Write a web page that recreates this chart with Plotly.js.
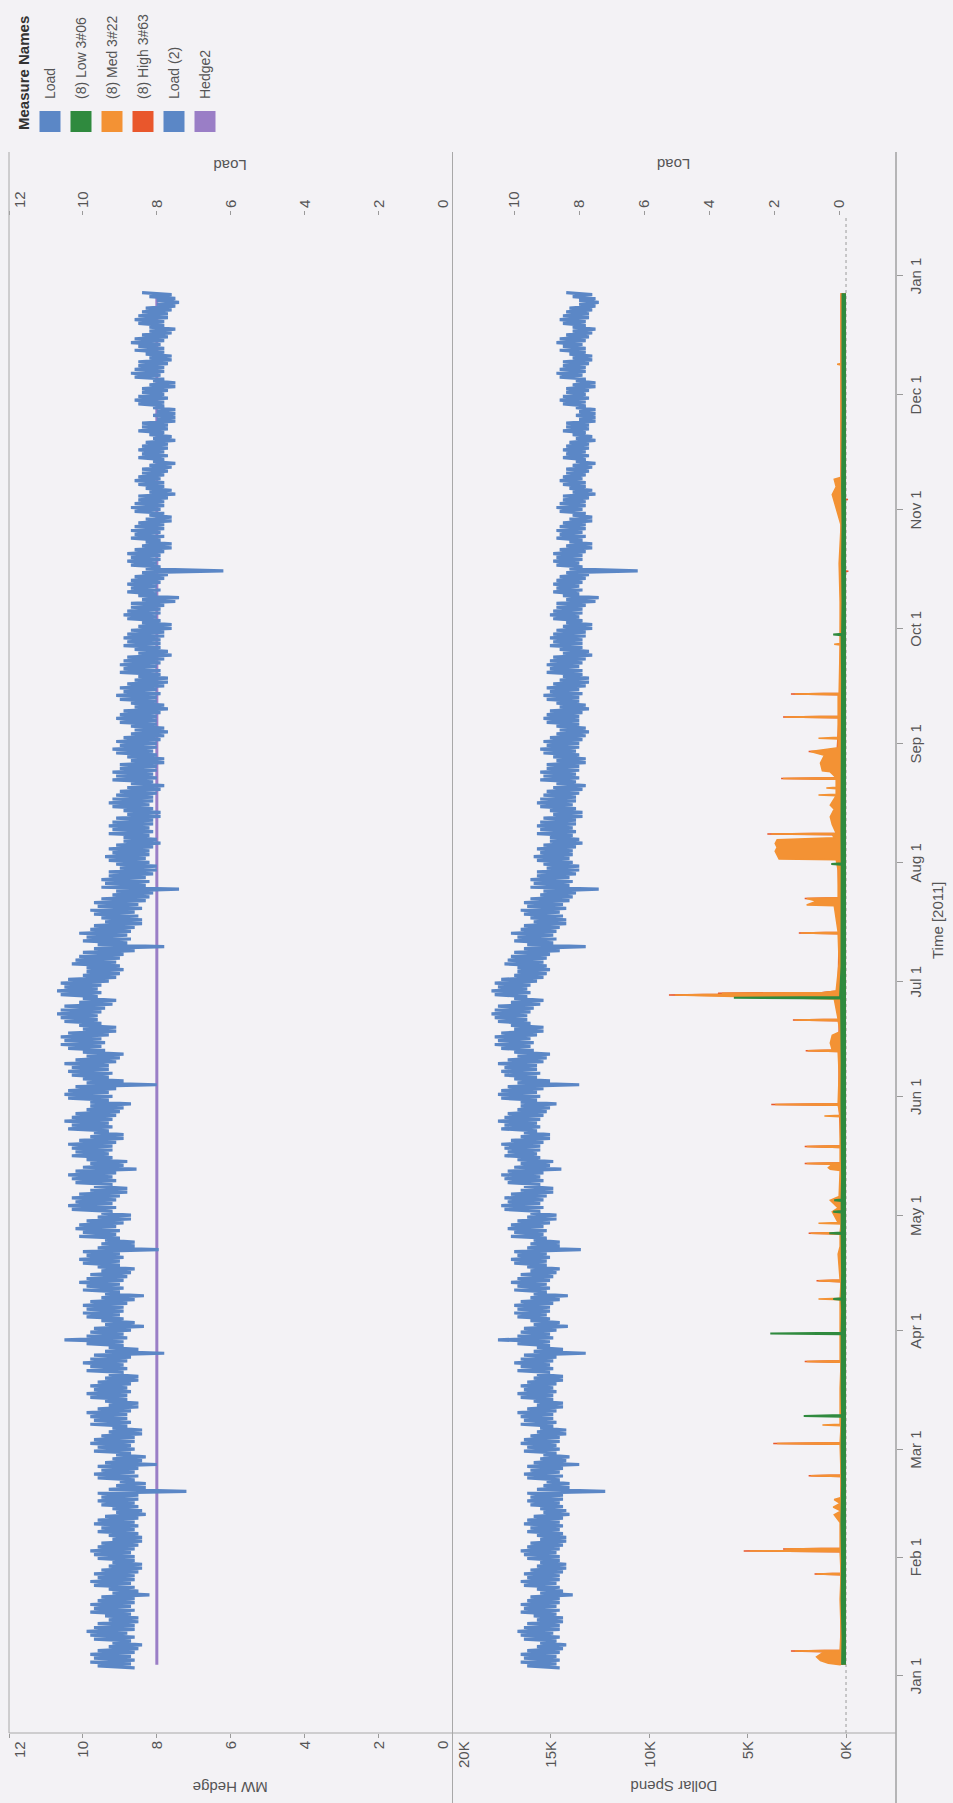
<!DOCTYPE html>
<html><head><meta charset="utf-8">
<script src="https://cdn.plot.ly/plotly-3.0.1.min.js"></script>
<style>
html,body{margin:0;padding:0;background:#f3f2f5;width:953px;height:1803px;overflow:hidden;}
#wrap{position:absolute;left:0;top:0;width:1803px;height:953px;transform-origin:0 0;transform:translate(0px,1803px) rotate(-90deg);}
#chart{width:1803px;height:953px;}
</style></head><body>
<div id="wrap"><div id="chart"></div></div>
<script>
// ---------- DATA ----------
// Load (MW): daily afternoon peak and night low, starting Mon 3 Jan 2011 (day 2)
const loadStartDay = 2;
const loadHigh = [
9.6,9.8,9.7,9.8,9.6,9.3,9.2, 9.7,9.8,9.9,9.7,9.6,9.3,9.4, 9.8,9.7,9.8,9.6,9.5,9.2,9.3, 9.7,9.8,9.6,9.7,9.5,9.3,9.2,
9.6,9.7,9.8,9.6,9.5,9.2,9.3, 9.6,9.5,9.7,9.6,9.4,9.1,9.2, 9.5,9.6,9.5,9.6,9.3,9.1,9.0, 9.6,9.7,9.5,9.6,9.4,9.2,9.1,
9.7,9.6,9.8,9.7,9.5,9.3,9.2, 9.8,9.7,9.8,9.9,9.6,9.3,9.4, 9.8,9.9,9.7,9.8,9.6,9.4,9.3, 9.9,9.8,10.0,9.8,9.7,9.4,9.3,
9.9,10.5,9.9,9.8,9.7,9.4,9.5, 9.9,10.0,9.9,10.0,9.8,9.5,9.4, 10.0,9.9,10.1,9.9,9.8,9.5,9.6, 10.0,10.1,9.9,10.0,9.6,9.5,9.4,
10.1,10.0,10.2,10.1,9.9,9.6,9.5, 10.3,10.4,10.2,10.3,10.1,9.8,9.7, 10.2,10.3,10.4,10.2,10.0,9.8,9.9, 10.3,10.2,10.3,10.4,10.1,9.8,9.7,
10.4,10.3,10.5,10.3,10.2,9.9,9.8, 9.8,10.4,10.5,10.4,10.2,9.9,10.0, 10.3,10.4,10.3,10.5,10.2,9.9,10.0, 10.4,10.6,10.5,10.6,10.4,10.0,10.1,
10.5,10.6,10.7,10.6,10.5,10.1,10.0, 10.6,10.7,10.5,10.6,10.4,10.0,9.9, 9.9,10.3,10.2,10.1,10.0,9.7,9.6, 10.0,9.9,10.1,9.8,9.7,9.4,9.5,
9.7,9.8,9.6,9.7,9.5,9.2,9.1, 9.5,9.4,9.5,9.3,9.3,9.0,9.1, 9.3,9.4,9.2,9.3,9.1,8.9,8.9, 9.3,9.2,9.3,9.2,9.1,8.8,8.9,
9.2,9.3,9.2,9.1,9.0,8.8,8.7, 9.2,9.1,9.2,9.0,9.0,8.7,8.8, 9.1,9.2,9.0,9.1,8.9,8.7,8.6, 8.7,9.0,9.1,9.0,8.9,8.6,8.7,
9.0,9.1,8.9,9.0,8.8,8.6,8.5, 9.0,8.9,9.0,8.9,8.8,8.5,8.6, 8.9,8.8,8.9,8.8,8.7,8.5,8.4, 8.8,8.9,8.8,8.7,8.7,8.4,8.5,
8.8,8.7,8.8,8.7,8.6,8.4,8.3, 8.7,8.8,8.7,8.8,8.6,8.4,8.3, 8.7,8.6,8.7,8.6,8.5,8.3,8.2, 8.6,8.7,8.6,8.5,8.5,8.2,8.3,
8.5,8.6,8.5,8.4,8.4,8.2,8.1, 8.5,8.4,8.5,8.4,8.3,8.1,8.2, 8.5,8.4,8.4,8.0,8.1,8.0,8.1, 8.5,8.6,8.5,8.4,8.4,8.2,8.1,
8.6,8.7,8.6,8.5,8.5,8.2,8.3, 8.6,8.5,8.7,8.6,8.4,8.2,8.2, 8.5,8.6,8.5,8.4,8.3,8.0,8.0, 8.2,8.4
];
const loadLow = [
8.6,8.7,8.6,8.7,8.6,8.5,8.4, 8.7,8.6,8.8,8.6,8.6,8.5,8.5, 8.7,8.6,8.7,8.6,8.6,8.2,8.5, 8.6,8.7,8.6,8.6,8.5,8.4,8.4,
8.6,8.6,8.7,8.6,8.5,8.4,8.4, 8.5,8.6,8.5,8.6,8.5,8.3,8.4, 8.5,8.6,8.5,8.5,7.2,8.3,8.3, 8.6,8.5,8.6,8.5,8.0,8.4,8.3,
8.7,8.6,8.7,8.6,8.6,8.4,8.4, 8.8,8.7,8.8,8.8,8.7,8.5,8.5, 8.8,8.8,8.7,8.8,8.7,8.5,8.5, 8.9,8.8,8.9,8.8,8.7,7.8,8.5,
8.9,8.9,8.8,8.9,8.7,8.35,8.6, 8.9,9.0,8.9,8.9,8.8,8.6,8.35, 9.0,8.9,9.0,8.9,8.8,8.7,8.6, 9.0,9.0,8.9,9.0,7.95,8.6,8.6,
9.0,9.1,9.0,9.1,8.9,8.7,8.7, 9.2,9.1,9.2,9.1,9.0,8.8,8.8, 9.2,9.1,9.2,9.1,8.55,8.9,8.8, 9.2,9.3,9.2,9.2,9.1,8.9,8.9,
9.3,9.2,9.3,9.2,9.1,9.0,8.9, 8.7,9.3,9.2,9.3,9.1,8.0,8.9, 9.3,9.2,9.3,9.3,9.1,9.0,8.9, 9.4,9.5,9.4,9.5,9.3,9.1,9.1,
9.5,9.6,9.6,9.5,9.4,9.2,9.1, 9.6,9.5,9.6,9.5,9.3,9.1,9.0, 8.9,9.0,9.1,9.0,8.9,8.6,7.8, 8.8,8.7,8.8,8.7,8.6,8.4,8.4,
8.5,8.6,8.4,8.5,8.3,8.2,8.1, 7.4,8.3,8.2,8.3,8.1,8.0,8.0, 8.2,8.3,8.2,8.2,8.1,7.9,8.0, 8.2,8.1,8.2,8.1,8.1,7.9,7.9,
8.1,8.2,8.1,8.1,8.0,7.9,7.8, 8.1,8.0,8.1,8.0,8.0,7.8,7.8, 8.0,8.1,8.0,8.0,7.9,7.8,7.7, 7.8,8.0,8.0,8.0,7.9,7.7,7.8,
8.0,8.0,7.9,8.0,7.8,7.7,7.7, 7.9,7.9,8.0,7.9,7.8,7.6,7.7, 7.9,7.9,7.9,7.8,7.8,7.6,7.6, 7.9,8.0,7.9,7.9,7.8,7.5,7.4,
8.0,7.9,8.0,7.9,7.8,7.7,6.2, 7.9,8.0,7.9,7.9,7.8,7.6,7.6, 7.9,7.8,7.9,7.8,7.8,7.6,7.6, 7.8,7.9,7.8,7.8,7.7,7.5,7.6,
7.8,7.8,7.9,7.8,7.7,7.6,7.5, 7.8,7.7,7.8,7.7,7.7,7.5,7.6, 7.8,7.7,7.7,7.5,7.5,7.5,7.5, 7.8,7.8,7.7,7.8,7.7,7.5,7.5,
7.8,7.9,7.8,7.8,7.7,7.6,7.6, 7.8,7.8,7.9,7.8,7.7,7.6,7.5, 7.8,7.8,7.7,7.7,7.6,7.5,7.4, 7.5,7.6
];
// Hedge2 (MW): flat hedge over the data period
const hedgeDays = [2.9, 360.5];
const hedgeVals = [8, 8];

// Dollar spend, (8) Low 3#06 : day of year (0 = Jan 1) and $ value
const lowDay = [2.9,10,20,30,40,50,60,67.6,67.8,68.0,75,85,89.1,89.3,89.5,95,98.1,98.3,98.5,105,115.2,115.4,115.6,120.8,121,121.2,123.8,124,124.2,130,140,150,160,170,176.6,176.8,177.0,185,195,205,211.5,211.7,211.9,220,230,240,250,260,271.3,271.5,271.7,280,290,300,310,320,330,340,350,360.5];
const lowVal = [200,180,220,200,230,200,220,200,2150,200,220,200,220,3850,220,200,220,650,220,200,220,850,220,220,650,220,220,600,220,200,220,230,220,230,250,5700,300,230,220,230,220,750,220,230,220,230,220,200,220,650,200,180,200,180,200,180,170,180,170,180];

// Dollar spend, (8) Med 3#22
const medDay = [2.9,3.3,4.0,5.0,6.0,6.4,6.5,6.7,12,20,26.4,26.6,26.8,32.4,32.6,32.8,33.1,33.3,40,42,43,44,45,46,46.5,
52.0,52.2,52.4,60.4,60.6,60.8,65.2,65.4,65.6,75,81.8,82,82.2,93,98.1,98.3,98.5,102.8,103,103.2,
110,112,115.2,115.4,115.6,117.8,118,118.2,121,122,124,125,131.8,132.1,132.5,133.4,133.6,133.8,137.8,138,138.2,
145.8,146,146.2,148.8,149,149.2,157,162.8,163,163.2,165,167,168,170.8,171,171.2,176.5,177.3,177.5,177.7,178.0,178.2,178.6,
186,193.5,193.7,193.9,200.8,201,202,202.7,202.9,210,212.8,213,214,215,216,217,218,218.5,219.4,219.5,219.7,
222,224,226,227,229.5,229.7,229.9,231.3,231.5,231.7,233.8,234,234.2,235.7,236,238,240,241,241.7,242,244.3,244.5,244.7,
249.8,250,250.2,255.8,256,256.2,265,268.8,269,269.2,280,290,300,306.7,308,310,312,312.5,325,341.8,342,342.2,360.5];
const medVal = [300,900,1300,1500,1200,1000,2600,300,250,300,250,1500,250,300,4900,400,3100,300,300,600,250,650,300,600,250,
250,1800,250,300,3500,300,250,1200,300,300,250,2000,300,300,300,1400,300,250,1400,300,
400,300,300,1800,300,250,1400,400,700,400,800,350,300,800,900,700,2000,300,300,2000,300,
300,1100,300,400,3600,400,350,400,1950,700,800,700,300,400,2600,400,600,6400,8700,6200,6300,1100,500,
350,400,2300,400,600,2000,1500,2000,400,400,500,3400,3500,3600,3500,3600,3500,600,700,3800,500,
700,800,600,800,500,1400,500,500,1000,500,500,3200,500,800,1200,1300,1100,1800,900,400,400,1400,400,
400,3100,400,400,2600,350,300,300,600,300,300,350,250,600,700,500,600,250,250,250,450,250,250];

// Dollar spend, (8) High 3#63
const highDay = [2.9,6.3,6.5,6.7,26.4,26.6,26.8,32.4,32.6,32.8,33.1,33.3,52.0,52.2,52.4,60.4,60.6,60.8,81.8,82,82.2,
102.8,103,103.2,115.2,115.4,115.6,133.4,133.6,133.8,137.8,138,138.2,148.8,149,149.2,162.8,163,163.2,170.8,171,171.2,
177.1,177.3,177.5,177.7,178.0,178.2,178.6,193.5,193.7,193.9,202.5,202.7,202.9,219.3,219.5,219.7,233.8,234,234.2,
240.8,241,241.2,249.8,250,250.2,255.8,256,256.2,287.8,288,288.2,306.5,306.7,306.9,360.5];
const highVal = [250,1100,2800,250,250,1600,250,250,5200,350,3200,250,250,1900,250,250,3700,250,250,2100,250,
250,1500,250,250,1900,250,250,2100,250,250,2100,250,350,3800,350,350,2050,350,350,2700,350,
500,6600,9000,6400,6500,1200,400,350,2400,350,350,2100,350,450,4000,450,450,3300,450,
450,1900,450,350,3200,350,350,2800,300,250,-120,250,250,-100,250,250];

// Axis ticks and labels
const monthTickDates = ['2011-01-01','2011-02-01','2011-03-01','2011-04-01','2011-05-01','2011-06-01','2011-07-01','2011-08-01','2011-09-01','2011-10-01','2011-11-01','2011-12-01','2012-01-01'];
const monthTickLabels = ['Jan 1','Feb 1','Mar 1','Apr 1','May 1','Jun 1','Jul 1','Aug 1','Sep 1','Oct 1','Nov 1','Dec 1','Jan 1'];
const mwTicks = [0,2,4,6,8,10,12];
const mwTickLabels = ['0','2','4','6','8','10','12'];
const load2Ticks = [0,2,4,6,8,10];
const load2TickLabels = ['0','2','4','6','8','10'];
const dollarTicks = [0,5000,10000,15000,20000];
const dollarTickLabels = ['0K','5K','10K','15K','20K'];
const legendNames = ['Load','(8) Low 3#06','(8) Med 3#22','(8) High 3#63','Load (2)','Hedge2'];

// ---------- STYLE ----------
const BLUE='#5b87c6', GREEN='#2f8a3e', ORANGE='#f39234', RED='#e9572c', PURPLE='#9a7ec6';
const legendColors=[BLUE,GREEN,ORANGE,RED,BLUE,PURPLE];
const BG='#f3f2f5', TXT='#555555', LINE='#a8a8a8';
const FONT='Liberation Sans, Arial, sans-serif';
const TICKFONT={family:FONT,size:15,color:TXT};

function dayToDate(d){
  const ms = Date.UTC(2011,0,1) + d*86400000;
  return new Date(ms).toISOString().slice(0,16).replace('T',' ');
}
// build load trace points: night low and afternoon peak per day
const loadX=[], loadY=[];
for(let i=0;i<loadHigh.length;i++){
  const d = loadStartDay + i;
  loadX.push(dayToDate(d+0.125)); loadY.push(loadLow[i]);
  loadX.push(dayToDate(d+0.625)); loadY.push(loadHigh[i]);
}
const hedgeX = hedgeDays.map(dayToDate);

const traces = [
  {x:hedgeX, y:hedgeVals, type:'scatter', mode:'lines', line:{color:PURPLE,width:3}, xaxis:'x', yaxis:'y', name:'Hedge2', hoverinfo:'skip'},
  {x:loadX, y:loadY, type:'scatter', mode:'lines', line:{color:BLUE,width:3.2}, xaxis:'x', yaxis:'y2', name:'Load', hoverinfo:'skip'},
  {x:highDay.map(dayToDate), y:highVal, type:'scatter', mode:'lines', fill:'tozeroy', fillcolor:RED, line:{color:RED,width:1.5}, xaxis:'x', yaxis:'y3', name:'(8) High 3#63', hoverinfo:'skip'},
  {x:medDay.map(dayToDate), y:medVal, type:'scatter', mode:'lines', fill:'tozeroy', fillcolor:ORANGE, line:{color:ORANGE,width:1.5}, xaxis:'x', yaxis:'y3', name:'(8) Med 3#22', hoverinfo:'skip'},
  {x:lowDay.map(dayToDate), y:lowVal, type:'scatter', mode:'lines', fill:'tozeroy', fillcolor:GREEN, line:{color:GREEN,width:2}, xaxis:'x', yaxis:'y3', name:'(8) Low 3#06', hoverinfo:'skip'},
  {x:loadX, y:loadY, type:'scatter', mode:'lines', line:{color:BLUE,width:3.2}, xaxis:'x', yaxis:'y4', name:'Load (2)', hoverinfo:'skip'}
];

const tickStyle = {showgrid:false, zeroline:false, showline:false, ticks:'outside', ticklen:4, tickcolor:'#9a9a9a', tickfont:TICKFONT, fixedrange:true};

// paper-coordinate helpers (plot area: X 70..1587, Y 9..896 in landscape)
const PX0=70, PX1=1587, PY0=9, PY1=896;
const px = X => (X-PX0)/(PX1-PX0);
const py = Y => (PY1-Y)/(PY1-PY0);

const shapes = [
  {type:'line', xref:'paper', yref:'paper', x0:px(70), x1:px(1651), y0:1, y1:1, line:{color:LINE,width:1}},
  {type:'line', xref:'paper', yref:'paper', x0:px(0), x1:px(1651), y0:0.5, y1:0.5, line:{color:LINE,width:1}},
  {type:'line', xref:'paper', yref:'paper', x0:px(0), x1:px(1651), y0:0, y1:0, line:{color:'#8c8c8c',width:1.2}},
  {type:'line', xref:'paper', yref:'paper', x0:0, x1:0, y0:0, y1:1, line:{color:LINE,width:1}},
  {type:'line', xref:'paper', yref:'y3', x0:0, x1:1, y0:0, y1:0, line:{color:'#9a9a9a',width:1,dash:'dot'}, layer:'below'}
];
const annotations = [
  {text:'MW Hedge', xref:'paper', yref:'paper', x:px(16), y:0.75, textangle:-90, showarrow:false, xanchor:'center', yanchor:'middle', font:{family:FONT,size:15,color:TXT}},
  {text:'Dollar Spend', xref:'paper', yref:'paper', x:px(16), y:0.25, textangle:-90, showarrow:false, xanchor:'center', yanchor:'middle', font:{family:FONT,size:15,color:TXT}},
  {text:'Load', xref:'paper', yref:'paper', x:px(1638), y:0.75, textangle:-90, showarrow:false, xanchor:'center', yanchor:'middle', font:{family:FONT,size:15,color:TXT}},
  {text:'Load', xref:'paper', yref:'paper', x:px(1638), y:0.25, textangle:-90, showarrow:false, xanchor:'center', yanchor:'middle', font:{family:FONT,size:15,color:TXT}},
  {text:'Time [2011]', xref:'paper', yref:'paper', x:px(883), y:py(937), showarrow:false, xanchor:'center', yanchor:'middle', font:{family:FONT,size:15,color:TXT}},
  {text:'<b>Measure Names</b>', xref:'paper', yref:'paper', x:px(1671), y:py(24), showarrow:false, xanchor:'left', yanchor:'middle', font:{family:FONT,size:15,color:'#333'}},
  // edge tick labels, nudged inside the pane as in the original
  {text:mwTickLabels[6], xref:'paper', yref:'paper', x:px(64), y:py(19), showarrow:false, xanchor:'right', yanchor:'middle', font:TICKFONT},
  {text:mwTickLabels[0], xref:'paper', yref:'paper', x:px(64), y:py(442), showarrow:false, xanchor:'right', yanchor:'middle', font:TICKFONT},
  {text:dollarTickLabels[4], xref:'paper', yref:'paper', x:px(64), y:py(463), showarrow:false, xanchor:'right', yanchor:'middle', font:TICKFONT},
  {text:mwTickLabels[6], xref:'paper', yref:'paper', x:px(1593), y:py(19), showarrow:false, xanchor:'left', yanchor:'middle', font:TICKFONT},
  {text:mwTickLabels[0], xref:'paper', yref:'paper', x:px(1593), y:py(442), showarrow:false, xanchor:'left', yanchor:'middle', font:TICKFONT}
];
const legendY = [50,81,112,143,174,205];
legendNames.forEach((n,i)=>{
  shapes.push({type:'rect', xref:'paper', yref:'paper', x0:px(1671), x1:px(1692), y0:py(legendY[i]+10.5), y1:py(legendY[i]-10.5), fillcolor:legendColors[i], line:{width:0}});
  annotations.push({text:n, xref:'paper', yref:'paper', x:px(1702), y:py(legendY[i]), showarrow:false, xanchor:'left', yanchor:'middle', font:{family:FONT,size:14,color:TXT}});
});

const innerMw = mwTickLabels.map((t,i)=> (i===0||i===6)?'':t);
const innerDollar = dollarTickLabels.map((t,i)=> i===4?'':t);

const layout = {
  width:1803, height:953,
  margin:{l:PX0, r:1803-PX1, t:PY0, b:953-PY1, pad:0},
  paper_bgcolor:BG, plot_bgcolor:BG,
  showlegend:false,
  font:{family:FONT, size:15, color:TXT},
  xaxis:Object.assign({}, tickStyle, {type:'date', anchor:'y3', range:['2010-12-17 03:00','2012-01-16 15:00'], tickmode:'array', tickvals:monthTickDates, ticktext:monthTickLabels, ticklen:6}),
  yaxis:Object.assign({}, tickStyle, {domain:[0.5,1], range:[0,12], tickmode:'array', tickvals:mwTicks, ticktext:innerMw}),
  yaxis2:Object.assign({}, tickStyle, {overlaying:'y', side:'right', range:[0,12], tickmode:'array', tickvals:mwTicks, ticktext:innerMw}),
  yaxis3:Object.assign({}, tickStyle, {domain:[0,0.5], range:[-2540,20000], tickmode:'array', tickvals:dollarTicks, ticktext:innerDollar}),
  yaxis4:Object.assign({}, tickStyle, {overlaying:'y3', side:'right', range:[-1.75,11.9], tickmode:'array', tickvals:load2Ticks, ticktext:load2TickLabels}),
  shapes:shapes, annotations:annotations
};
Plotly.newPlot('chart', traces, layout, {displayModeBar:false, staticPlot:true});
</script></body></html>
